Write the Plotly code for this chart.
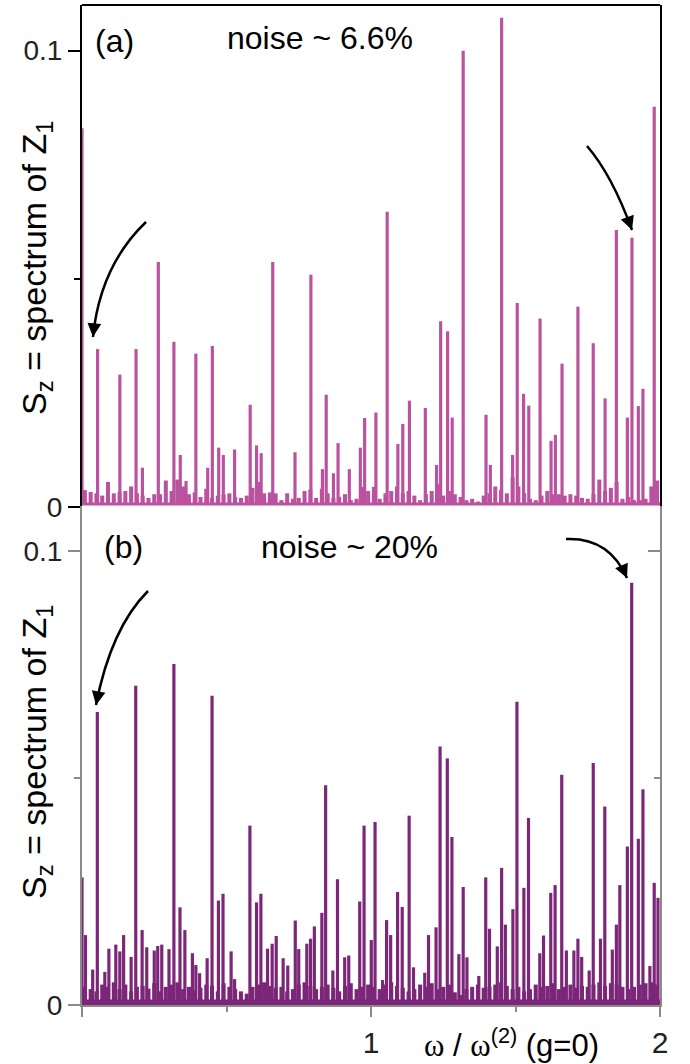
import plotly.graph_objects as go

# ---------------- data ----------------
# panel (a): noise ~ 6.6 %
peaks_a_x = [0.0, 0.054, 0.131, 0.187, 0.209, 0.264, 0.318, 0.340, 0.360, 0.394,
             0.435, 0.451, 0.473, 0.489, 0.528, 0.582, 0.604, 0.620, 0.660, 0.737,
             0.792, 0.832, 0.845, 0.870, 0.886, 0.925, 0.963, 0.978, 1.017, 1.056,
             1.093, 1.110, 1.133, 1.188, 1.227, 1.241, 1.265, 1.281, 1.319, 1.398,
             1.413, 1.452, 1.490, 1.506, 1.528, 1.546, 1.585, 1.623, 1.638, 1.661,
             1.716, 1.769, 1.810, 1.849, 1.887, 1.903, 1.925, 1.941, 1.980]
peaks_a_y = [0.083, 0.0346, 0.029, 0.0346, 0.0086, 0.0537, 0.0362, 0.0114, 0.0057, 0.0336,
             0.0086, 0.0353, 0.013, 0.0114, 0.0126, 0.0224, 0.0135, 0.0118, 0.0537, 0.012,
             0.0509, 0.0083, 0.0246, 0.0074, 0.014, 0.0083, 0.013, 0.0195, 0.0207, 0.0647,
             0.0138, 0.0182, 0.0233, 0.0217, 0.0092, 0.0407, 0.0385, 0.0196, 0.1, 0.0202,
             0.0092, 0.1072, 0.0114, 0.0447, 0.0248, 0.0222, 0.0413, 0.0145, 0.0158, 0.0314,
             0.0439, 0.0359, 0.0238, 0.0607, 0.0196, 0.059, 0.0221, 0.0259, 0.0877]
floor_a = [0.0037, 0.0033, 0.003, 0.0025, 0.0055, 0.003, 0.0033, 0.0035, 0.0045, 0.003,
           0.0025, 0.002, 0.0028, 0.0028, 0.0058, 0.0035, 0.006, 0.0045, 0.0028, 0.0032,
           0.0022, 0.004, 0.002, 0.0025, 0.0028, 0.003, 0.0022, 0.002, 0.0025, 0.0042,
           0.0055, 0.003, 0.0032, 0.003, 0.0015, 0.003, 0.0018, 0.002, 0.0035, 0.0038,
           0.002, 0.004, 0.003, 0.002, 0.0022, 0.0028, 0.0015, 0.0018, 0.0044, 0.0035,
           0.0044, 0.0018, 0.003, 0.0035, 0.0045, 0.003, 0.0035, 0.0025, 0.0015, 0.0028,
           0.0035, 0.005, 0.0025, 0.0035, 0.0028, 0.0022, 0.0015, 0.0018, 0.0012, 0.0025,
           0.003, 0.0045, 0.0038, 0.003, 0.0065, 0.0045, 0.003, 0.0018, 0.0015, 0.0025,
           0.0035, 0.0028, 0.0028, 0.0025, 0.0028, 0.0025, 0.002, 0.0018, 0.0028, 0.006,
           0.0035, 0.0042, 0.0055, 0.0018, 0.0022, 0.0015, 0.0015, 0.0018, 0.0045, 0.0058]

# panel (b): noise ~ 20 %
peaks_b_x = [0.0, 0.012, 0.037, 0.053, 0.079, 0.093, 0.117, 0.131, 0.144, 0.170,
             0.186, 0.208, 0.224, 0.250, 0.262, 0.276, 0.301, 0.318, 0.339, 0.356,
             0.382, 0.394, 0.407, 0.433, 0.450, 0.472, 0.488, 0.516, 0.528, 0.581,
             0.604, 0.619, 0.642, 0.658, 0.672, 0.696, 0.712, 0.738, 0.750, 0.778,
             0.791, 0.804, 0.830, 0.843, 0.868, 0.884, 0.909, 0.923, 0.961, 0.976,
             1.001, 1.014, 1.040, 1.054, 1.068, 1.092, 1.108, 1.132, 1.147, 1.186,
             1.199, 1.225, 1.239, 1.264, 1.280, 1.304, 1.319, 1.332, 1.373, 1.397,
             1.410, 1.437, 1.452, 1.465, 1.491, 1.505, 1.529, 1.545, 1.584, 1.597,
             1.622, 1.637, 1.660, 1.676, 1.702, 1.716, 1.729, 1.755, 1.769, 1.794,
             1.809, 1.835, 1.849, 1.861, 1.887, 1.902, 1.925, 1.941, 1.965, 1.980, 1.993]
peaks_b_y = [0.0281, 0.0154, 0.0078, 0.0645, 0.0073, 0.0124, 0.0133, 0.0118, 0.0154, 0.0106,
             0.0703, 0.0165, 0.0127, 0.012, 0.013, 0.0133, 0.0123, 0.0751, 0.0215, 0.0165,
             0.0114, 0.0088, 0.007, 0.0103, 0.0681, 0.023, 0.0245, 0.0118, 0.0057, 0.0395,
             0.0226, 0.0245, 0.0124, 0.0135, 0.0152, 0.0103, 0.0087, 0.0186, 0.0123, 0.0135,
             0.0146, 0.0173, 0.0203, 0.0484, 0.0076, 0.0277, 0.0105, 0.0109, 0.0228, 0.0395,
             0.0143, 0.0403, 0.0055, 0.0187, 0.0154, 0.0249, 0.0216, 0.0417, 0.0083, 0.0071,
             0.0154, 0.0171, 0.0569, 0.0543, 0.037, 0.0112, 0.026, 0.0105, 0.0064, 0.0281,
             0.0168, 0.0129, 0.0302, 0.0177, 0.0211, 0.0668, 0.0258, 0.0412, 0.0114, 0.0153,
             0.0247, 0.0264, 0.0507, 0.012, 0.012, 0.0146, 0.0106, 0.0076, 0.0533, 0.0146,
             0.0437, 0.0122, 0.0177, 0.0264, 0.0349, 0.093, 0.0366, 0.0475, 0.0086, 0.0269, 0.0236]
floor_b = [0.004, 0.0035, 0.003, 0.0045, 0.004, 0.005, 0.0035, 0.0045, 0.003, 0.004,
           0.0042, 0.0036, 0.0048, 0.003, 0.004, 0.0045, 0.005, 0.0035, 0.004, 0.0032,
           0.0038, 0.0045, 0.0042, 0.003, 0.0048, 0.004, 0.0035, 0.003, 0.0025, 0.004,
           0.0045, 0.005, 0.0042, 0.0038, 0.004, 0.003, 0.0035, 0.0045, 0.005, 0.0042,
           0.0035, 0.004, 0.0045, 0.0038, 0.003, 0.0042, 0.0048, 0.0035, 0.004, 0.0045,
           0.004, 0.0035, 0.0045, 0.005, 0.0042, 0.0038, 0.003, 0.0035, 0.0045, 0.004,
           0.0048, 0.0035, 0.004, 0.0045, 0.0028, 0.0022, 0.0035, 0.004, 0.0045, 0.0038,
           0.004, 0.0045, 0.005, 0.0042, 0.0035, 0.004, 0.003, 0.0035, 0.0045, 0.004,
           0.0042, 0.0048, 0.0035, 0.004, 0.0045, 0.0038, 0.0042, 0.004, 0.0045, 0.005,
           0.0042, 0.0048, 0.0045, 0.004, 0.0035, 0.004, 0.0045, 0.0048, 0.005, 0.0045]
floor_step = 0.02
floor_x = [round(floor_step / 2 + floor_step * i, 3) for i in range(len(floor_a))]

x_tick_vals = [0, 1, 2]
x_tick_text = ["", "1", "2"]
y_tick_vals = [0, 0.1]
y_tick_text = ["0", "0.1"]

COL_A = "#BB52A0"
COL_B = "#7B2678"
GRAY = "#8a8a8a"
FONT = "Arial, Liberation Sans, sans-serif"

# ---------------- figure geometry ----------------
W, H = 690, 1064
ML, MR, MT, MB = 82, 30, 5, 59
PW, PH = W - ML - MR, H - MT - MB


def px2paper(px, py):
    return (px - ML) / PW, (H - MB - py) / PH


fig = go.Figure()

# panel (a)
fig.add_trace(go.Bar(x=floor_x, y=floor_a, width=0.014, marker=dict(color=COL_A, line_width=0),
                     xaxis="x", yaxis="y", hoverinfo="skip"))
fig.add_trace(go.Bar(x=peaks_a_x, y=peaks_a_y, width=0.011, marker=dict(color=COL_A, line_width=0),
                     xaxis="x", yaxis="y"))
fig.add_trace(go.Scatter(x=[0, 2], y=[0, 0], mode="lines", line=dict(color=COL_A, width=9),
                         xaxis="x", yaxis="y", hoverinfo="skip"))

# panel (b)
fig.add_trace(go.Bar(x=floor_x, y=floor_b, width=0.014, marker=dict(color=COL_B, line_width=0),
                     xaxis="x2", yaxis="y2", hoverinfo="skip"))
fig.add_trace(go.Bar(x=peaks_b_x, y=peaks_b_y, width=0.011, marker=dict(color=COL_B, line_width=0),
                     xaxis="x2", yaxis="y2"))
fig.add_trace(go.Scatter(x=[0, 2], y=[0, 0], mode="lines", line=dict(color=COL_B, width=11),
                         xaxis="x2", yaxis="y2", hoverinfo="skip"))
# helper trace so that the right-hand (inner tick) axis of panel (b) is drawn
fig.add_trace(go.Scatter(x=[1], y=[0.05], mode="markers", marker=dict(opacity=0),
                         xaxis="x2", yaxis="y3", hoverinfo="skip"))

tick_font_y = dict(family=FONT, size=28, color="#222")
tick_font_x = dict(family=FONT, size=30, color="#222")

fig.update_layout(
    width=W, height=H,
    margin=dict(l=ML, r=MR, t=MT, b=MB),
    paper_bgcolor="white", plot_bgcolor="white",
    showlegend=False, barmode="overlay",
    xaxis=dict(domain=[0, 1], range=[0, 2], anchor="y", showline=False, showgrid=False,
               zeroline=False, ticks="outside", tickvals=x_tick_vals, ticklen=10, tickwidth=2,
               tickcolor="black", showticklabels=False, layer="below traces",
               minor=dict(ticks="outside", tickvals=[0.5, 1.5], ticklen=6, tickwidth=2,
                          tickcolor="black")),
    yaxis=dict(domain=[0.498, 1], range=[0, 0.11], anchor="x", showline=True, linecolor="black",
               linewidth=2, mirror=True, showgrid=False, zeroline=False, ticks="outside",
               tickvals=y_tick_vals, ticktext=y_tick_text, ticklen=12, tickwidth=2,
               tickcolor="black", tickfont=tick_font_y, layer="below traces",
               minor=dict(ticks="outside", tickvals=[0.05], ticklen=6, tickwidth=2,
                          tickcolor="black")),
    xaxis2=dict(domain=[0, 1], range=[0, 2], anchor="y2", showline=True, linecolor=GRAY,
                linewidth=2, showgrid=False, zeroline=False, ticks="outside",
                tickvals=x_tick_vals, ticktext=x_tick_text, ticklen=10, tickwidth=2,
                tickcolor=GRAY, tickfont=tick_font_x, layer="below traces",
                minor=dict(ticks="outside", tickvals=[0.5, 1.5], ticklen=5, tickwidth=2,
                           tickcolor=GRAY)),
    yaxis2=dict(domain=[0, 0.4995], range=[0, 0.11], anchor="x2", showline=True, linecolor=GRAY,
                linewidth=2, showgrid=False, zeroline=False, ticks="outside",
                tickvals=y_tick_vals, ticktext=y_tick_text, ticklen=12, tickwidth=2,
                tickcolor=GRAY, tickfont=tick_font_y, layer="below traces",
                minor=dict(ticks="outside", tickvals=[0.05], ticklen=6, tickwidth=2,
                           tickcolor=GRAY)),
    yaxis3=dict(domain=[0, 0.4995], range=[0, 0.11], anchor="x2", overlaying="y2", side="right",
                showline=True, linecolor=GRAY, linewidth=2, showgrid=False, zeroline=False,
                ticks="inside", tickvals=y_tick_vals, ticklen=12, tickwidth=2, tickcolor=GRAY,
                showticklabels=False, layer="below traces",
                minor=dict(ticks="inside", tickvals=[0.05], ticklen=6, tickwidth=2,
                           tickcolor=GRAY)),
)

# top frame line of panel (a)
fig.add_shape(type="line", xref="x domain", yref="y domain", x0=0, x1=1, y0=1, y1=1,
              line=dict(color="black", width=2))


# texts
def add_text(txt, px, py, size=32, angle=0):
    x, y = px2paper(px, py)
    fig.add_annotation(x=x, y=y, xref="paper", yref="paper", text=txt, showarrow=False,
                       xanchor="center", yanchor="middle", textangle=angle,
                       font=dict(family=FONT, size=size, color="black"))


add_text("(a)", 114, 41)
add_text("noise ~ 6.6%", 320, 38)
add_text("(b)", 123, 547)
add_text("noise ~ 20%", 349, 547)
ylab = "S<sub>z</sub> = spectrum of Z<sub>1</sub>"
add_text(ylab, 36, 268, size=34, angle=-90)
add_text(ylab, 36, 752, size=34, angle=-90)
add_text('<span style="font-family:Liberation Serif, Times New Roman, serif">ω</span> / '
         '<span style="font-family:Liberation Serif, Times New Roman, serif">ω</span>'
         '<sup>(2)</sup> (g=0)', 511, 1043, size=31)


# curved arrows (quadratic Bezier) with arrow heads
def add_arrow(p0, c, p2):
    x0, y0 = px2paper(*p0)
    cx, cy = px2paper(*c)
    x2, y2 = px2paper(*p2)
    fig.add_shape(type="path", xref="paper", yref="paper",
                  path=f"M {x0},{y0} Q {cx},{cy} {x2},{y2}",
                  line=dict(color="black", width=2.5))
    dx, dy = c[0] - p2[0], c[1] - p2[1]
    n = (dx * dx + dy * dy) ** 0.5
    fig.add_annotation(x=x2, y=y2, xref="paper", yref="paper", text="", showarrow=True,
                       ax=dx / n * 11, ay=dy / n * 11, arrowhead=2, arrowsize=1.1,
                       arrowwidth=2.5, arrowcolor="black", standoff=0)


add_arrow((146, 222), (100, 266), (93, 337))
add_arrow((587, 146), (612, 175), (632, 230))
add_arrow((148, 591), (111, 628), (96, 705))
add_arrow((566, 539), (609, 537), (627, 578))

fig.write_html("out.html", config={"displayModeBar": False},
               post_script="document.body.style.margin='0px';document.body.style.padding='0px';")
